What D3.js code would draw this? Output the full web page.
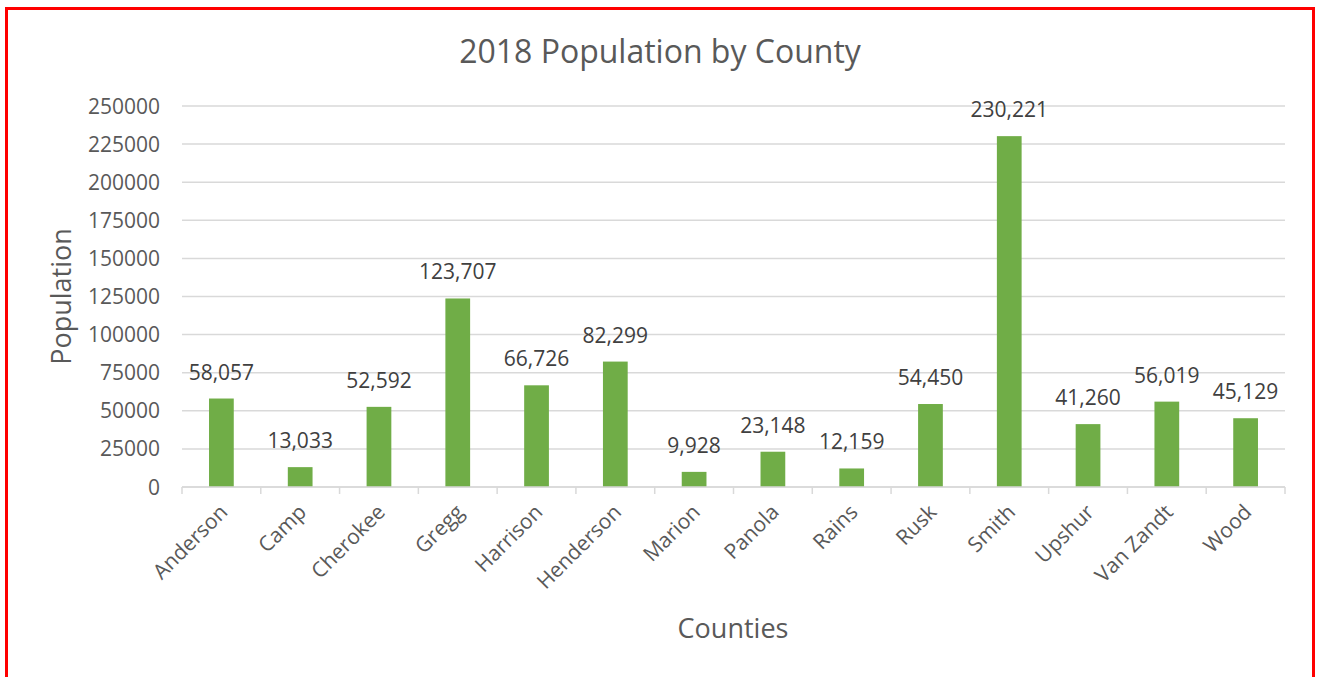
<!DOCTYPE html>
<html>
<head>
<meta charset="utf-8">
<script src="https://cdn.jsdelivr.net/npm/d3@7"></script>
<style>
  body { margin: 0; background: #fff; }
  svg text { font-family: "Open Sans", sans-serif; fill: #595959; }
</style>
</head>
<body>
<svg id="chart" width="1317" height="677"></svg>
<script>
const counties = ['Anderson', 'Camp', 'Cherokee', 'Gregg', 'Harrison', 'Henderson', 'Marion',
  'Panola', 'Rains', 'Rusk', 'Smith', 'Upshur', 'Van Zandt', 'Wood']
const population = [58057, 13033, 52592, 123707, 66726, 82299, 9928,
  23148, 12159, 54450, 230221, 41260, 56019, 45129]
const yTicks = [0, 25000, 50000, 75000, 100000, 125000, 150000, 175000, 200000, 225000, 250000]

const svg = d3.select('#chart')
const margin = { left: 182, right: 32, top: 106, bottom: 190 }
const width = 1317, height = 677
const labelSize = '21px'

// red frame around the chart, bottom edge runs off the image
svg.append('rect')
  .attr('x', 6.5).attr('y', 8.5)
  .attr('width', 1307).attr('height', 700)
  .attr('fill', 'none')
  .attr('stroke', '#ff0000')
  .attr('stroke-width', 3)

const x = d3.scaleBand()
  .domain(counties)
  .range([margin.left, width - margin.right])
  .paddingInner(0.686)
  .paddingOuter(0.343)

const xOuter = d3.scaleBand()
  .domain(counties)
  .range([margin.left, width - margin.right])

const y = d3.scaleLinear()
  .domain([0, 250000])
  .range([height - margin.bottom, margin.top])

// gridlines
svg.append('g')
  .selectAll('line')
  .data(yTicks)
  .join('line')
  .attr('x1', margin.left).attr('x2', width - margin.right)
  .attr('y1', d => y(d)).attr('y2', d => y(d))
  .attr('stroke', '#d9d9d9')
  .attr('stroke-width', 1.5)

// y tick labels
svg.append('g')
  .selectAll('text')
  .data(yTicks)
  .join('text')
  .attr('x', 160)
  .attr('y', d => y(d))
  .attr('dy', '0.36em')
  .attr('text-anchor', 'end')
  .style('font-size', labelSize)
  .text(d => d)

// bars
svg.append('g')
  .selectAll('rect')
  .data(population)
  .join('rect')
  .attr('x', (d, i) => x(counties[i]))
  .attr('width', x.bandwidth())
  .attr('y', d => y(d))
  .attr('height', d => y(0) - y(d))
  .attr('fill', '#70ad47')

// data labels
svg.append('g')
  .selectAll('text')
  .data(population)
  .join('text')
  .attr('x', (d, i) => x(counties[i]) + x.bandwidth() / 2)
  .attr('y', d => y(d) - 19)
  .attr('text-anchor', 'middle')
  .style('font-size', labelSize)
  .style('fill', '#404040')
  .text(d => d3.format(',')(d))

// x axis line and tick marks between categories
const xAxis = svg.append('g')
xAxis.append('line')
  .attr('x1', margin.left).attr('x2', width - margin.right)
  .attr('y1', y(0)).attr('y2', y(0))
  .attr('stroke', '#d9d9d9')
  .attr('stroke-width', 1.5)
xAxis.selectAll('.tick')
  .data(counties.concat(['end']))
  .join('line')
  .attr('class', 'tick')
  .attr('x1', (d, i) => margin.left + i * xOuter.step())
  .attr('x2', (d, i) => margin.left + i * xOuter.step())
  .attr('y1', y(0)).attr('y2', y(0) + 7)
  .attr('stroke', '#d9d9d9')
  .attr('stroke-width', 1.5)

// rotated category labels
xAxis.selectAll('.lbl')
  .data(counties)
  .join('text')
  .attr('class', 'lbl')
  .attr('transform', d => `translate(${x(d) + x.bandwidth() / 2 + 2},${y(0) + 21}) rotate(-45)`)
  .attr('text-anchor', 'end')
  .attr('dy', '0.36em')
  .style('font-size', labelSize)
  .text(d => d)

// titles
svg.append('text')
  .attr('x', 660).attr('y', 63)
  .attr('text-anchor', 'middle')
  .style('font-size', '32px')
  .text('2018 Population by County')

svg.append('text')
  .attr('transform', `translate(71,${(y(0) + y(250000)) / 2}) rotate(-90)`)
  .attr('text-anchor', 'middle')
  .style('font-size', '27px')
  .text('Population')

svg.append('text')
  .attr('x', 733).attr('y', 638)
  .attr('text-anchor', 'middle')
  .style('font-size', '27px')
  .text('Counties')
</script>
</body>
</html>
